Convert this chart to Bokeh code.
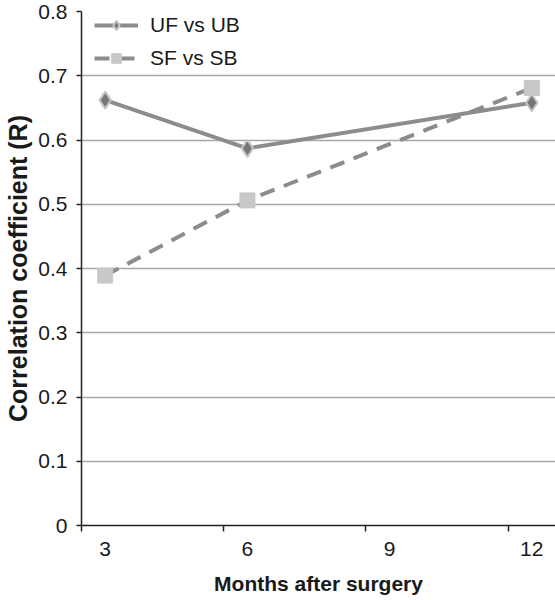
from bokeh.plotting import figure
from bokeh.models import FixedTicker, Range1d, Legend, LegendItem
from bokeh.embed import file_html
from bokeh.resources import INLINE

months = [3, 6, 12]
uf_vs_ub = [0.662, 0.587, 0.658]
sf_vs_sb = [0.389, 0.506, 0.681]
x_tick_labels = [3, 6, 9, 12]
y_ticks = [0, 0.1, 0.2, 0.3, 0.4, 0.5, 0.6, 0.7, 0.8]

FONT = "Liberation Sans"

p = figure(width=555, height=600, output_backend="svg", toolbar_location=None,
           x_range=Range1d(2.5, 12.5), y_range=Range1d(0, 0.8),
           min_border_left=81, min_border_right=0, min_border_top=11,
           min_border_bottom=75)
p.outline_line_color = None
p.background_fill_color = "white"
p.border_fill_color = "white"

# grid
p.xgrid.visible = False
p.ygrid.ticker = FixedTicker(ticks=y_ticks)
p.ygrid.grid_line_color = "#a6a6a6"
p.ygrid.grid_line_width = 1.6

# x axis: labels at category centres, tick marks between categories
p.xaxis.ticker = FixedTicker(ticks=x_tick_labels,
                             minor_ticks=[t - 0.5 for t in x_tick_labels])
p.xaxis.major_tick_line_color = None
p.xaxis.major_tick_out = 0
p.xaxis.major_tick_in = 0
p.xaxis.minor_tick_out = 6
p.xaxis.minor_tick_in = 0
p.xaxis.minor_tick_line_color = "#222222"
p.xaxis.minor_tick_line_width = 1.5
p.xaxis.major_label_standoff = 10
p.xaxis.axis_label = "Months after surgery"
p.xaxis.axis_label_standoff = 13

p.yaxis.ticker = FixedTicker(ticks=y_ticks)
p.yaxis.major_label_overrides = {0: "0"}
p.yaxis.major_tick_out = 5
p.yaxis.major_tick_in = 0
p.yaxis.minor_tick_line_color = None
p.yaxis.major_tick_line_width = 1.5
p.yaxis.major_tick_line_color = "#222222"
p.yaxis.major_label_standoff = 9
p.yaxis.axis_label = "Correlation coefficient (R)"
p.yaxis.axis_label_standoff = 3

for ax in (p.xaxis, p.yaxis):
    ax.axis_line_color = "#222222"
    ax.axis_line_width = 1.5
    ax.major_label_text_font = FONT
    ax.major_label_text_font_size = "21px"
    ax.major_label_text_color = "#1a1a1a"
    ax.axis_label_text_font = FONT
    ax.axis_label_text_font_size = "21px"
    ax.axis_label_text_font_style = "bold"
    ax.axis_label_text_color = "#1a1a1a"
p.yaxis.axis_label_text_font_size = "25px"

LINE = "#8c8c8c"
l1 = p.line(months, uf_vs_ub, line_color=LINE, line_width=4)
m1 = p.scatter(months, uf_vs_ub, marker="diamond", size=17,
               fill_color="#767676", line_color="#c4c4c4", line_width=2)
l2 = p.line(months, sf_vs_sb, line_color=LINE, line_width=4, line_dash="15 10")
m2 = p.scatter(months, sf_vs_sb, marker="square", size=15,
               fill_color="#c8c8c8", line_color="#c8c8c8", line_width=1)

legend = Legend(items=[LegendItem(label="UF vs UB", renderers=[l1, m1]),
                       LegendItem(label="SF vs SB", renderers=[l2, m2])],
                location=(13, 455))
legend.border_line_color = None
legend.background_fill_alpha = 0
legend.padding = 0
legend.margin = 0
legend.spacing = 9
legend.glyph_width = 44
legend.glyph_height = 24
legend.label_height = 24
legend.label_standoff = 12
legend.label_text_font = FONT
legend.label_text_font_size = "21px"
legend.label_text_color = "#1a1a1a"
p.add_layout(legend)

open("out.html", "w").write(file_html(p, INLINE))
